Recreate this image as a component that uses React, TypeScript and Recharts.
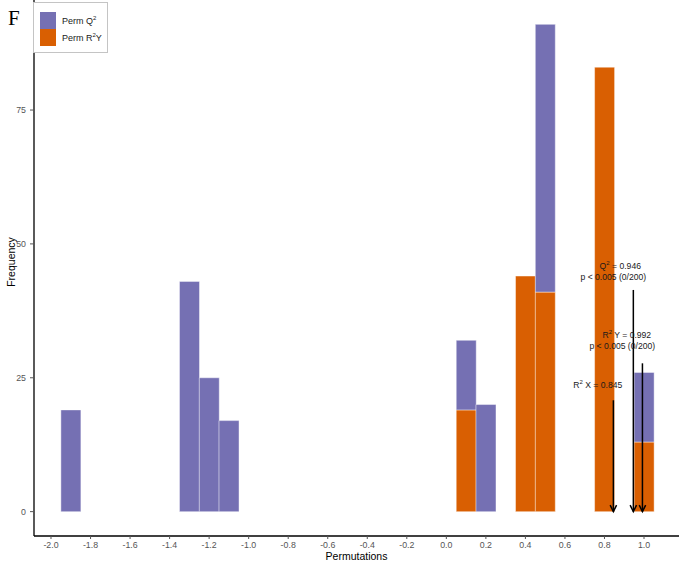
import { ComposedChart, Bar, XAxis, YAxis, ReferenceLine, Scatter, Legend } from "recharts";

// permutation histogram, bins of width 0.1 (stacked: R2Y at the bottom, Q2 on top)
const binCenters = [-1.9, -1.3, -1.2, -1.1, 0.1, 0.2, 0.4, 0.5, 0.8, 1.0];
const permQ2Counts = [19, 43, 25, 17, 13, 20, 0, 50, 0, 13];
const permR2YCounts = [0, 0, 0, 0, 19, 0, 44, 41, 83, 13];

const xTicks = [-2.0, -1.8, -1.6, -1.4, -1.2, -1.0, -0.8, -0.6, -0.4, -0.2, 0.0, 0.2, 0.4, 0.6, 0.8, 1.0];
const yTicks = [0, 25, 50, 75];

// observed model statistics, drawn as arrows
const statValues = [0.845, 0.946, 0.992];
const arrowTops = [20.8, 41.4, 27.7];

// annotation text anchors (data units)
const noteX = [0.88, 0.845, 0.913, 0.89, 0.766];
const noteY = [45.4, 43.2, 32.5, 30.3, 23.1];
const noteBase = ["Q", "p < 0.005 (0/200)", "R", "p < 0.005 (0/200)", "R"];
const noteSup = ["2", "", "2", "", "2"];
const noteRest = [" = 0.946", "", " Y = 0.992", "", " X = 0.845"];

const PURPLE = "#7570B3";
const ORANGE = "#D95F02";
const FONT = "'Liberation Sans', Arial, Helvetica, sans-serif";

const bins = binCenters.map((x, i) => ({ x, q2: permQ2Counts[i], r2y: permR2YCounts[i] }));
const arrowHeads = statValues.map((x) => ({ x, y: 0 }));
const notes = noteX.map((x, i) => ({
  x,
  y: noteY[i],
  base: noteBase[i],
  sup: noteSup[i],
  rest: noteRest[i],
}));

const X_DOMAIN: [number, number] = [-2.086, 1.177];
const Y_DOMAIN: [number, number] = [-4.55, 95.55];

function ArrowHead(props: any) {
  const { cx, cy } = props;
  return (
    <path
      d={`M${cx - 3.2},${cy - 6.5} L${cx},${cy} L${cx + 3.2},${cy - 6.5}`}
      fill="none"
      stroke="#000"
      strokeWidth={1.5}
    />
  );
}

function NoteText(props: any) {
  const { cx, cy, payload } = props;
  return (
    <text x={cx} y={cy} textAnchor="middle" fontFamily={FONT} fontSize={8.6} fill="#1a1a1a">
      <tspan>{payload.base}</tspan>
      {payload.sup && (
        <tspan dy={-3.5} fontSize={6}>
          {payload.sup}
        </tspan>
      )}
      {payload.rest && <tspan dy={payload.sup ? 3.5 : 0}>{payload.rest}</tspan>}
    </text>
  );
}

const legendItems = [
  { base: "Perm Q", sup: "2", rest: "", color: PURPLE },
  { base: "Perm R", sup: "2", rest: "Y", color: ORANGE },
];

function LegendBox() {
  return (
    <div
      style={{
        border: "1px solid #c4c4c4",
        background: "#fff",
        padding: "9px 5px 6px 6px",
        fontFamily: FONT,
        fontSize: 9,
        color: "#1a1a1a",
      }}
    >
      {legendItems.map((item) => (
        <div key={item.base} style={{ display: "flex", alignItems: "center", height: 17 }}>
          <div style={{ width: 16, height: 17, background: item.color, marginRight: 6 }} />
          <span>
            {item.base}
            <sup style={{ fontSize: 6 }}>{item.sup}</sup>
            {item.rest}
          </span>
        </div>
      ))}
    </div>
  );
}

function FrequencyLabel(props: any) {
  const { viewBox } = props;
  const x = viewBox.x + 11;
  const y = viewBox.y + viewBox.height / 2 - 6;
  return (
    <text
      x={x}
      y={y}
      transform={`rotate(-90, ${x}, ${y})`}
      textAnchor="middle"
      dominantBaseline="central"
      fontFamily={FONT}
      fontSize={10.5}
      fill="#000"
    >
      Frequency
    </text>
  );
}

export default function App() {
  return (
    <div style={{ position: "absolute", left: 0, top: 0, width: 679, height: 568, background: "#fff" }}>
      <div
        style={{
          position: "absolute",
          left: 8,
          top: 6,
          fontFamily: "'Liberation Serif', 'Times New Roman', serif",
          fontSize: 21,
          zIndex: 2,
        }}
      >
        F
      </div>
      <ComposedChart
        width={679}
        height={568}
        data={bins}
        margin={{ top: 0, right: 0, bottom: 0, left: 0 }}
        barCategoryGap={0}
        barGap={0}
      >
        <XAxis
          dataKey="x"
          type="number"
          domain={X_DOMAIN}
          allowDataOverflow
          ticks={xTicks}
          tickFormatter={(v: number) => v.toFixed(1)}
          interval={0}
          height={32}
          axisLine={{ stroke: "#000", strokeWidth: 1.3 }}
          tickLine={{ stroke: "#555" }}
          tickSize={3}
          tickMargin={2.5}
          tick={{ fill: "#555", fontSize: 8.8, fontFamily: FONT }}
          label={{
            value: "Permutations",
            position: "insideBottom",
            offset: 8,
            fill: "#000",
            fontSize: 10.5,
            fontFamily: FONT,
          }}
        />
        <XAxis xAxisId="ann" dataKey="x" type="number" domain={X_DOMAIN} allowDataOverflow hide />
        <YAxis
          type="number"
          domain={Y_DOMAIN}
          allowDataOverflow
          ticks={yTicks}
          interval={0}
          width={34}
          axisLine={{ stroke: "#000", strokeWidth: 1.3 }}
          tickLine={{ stroke: "#555" }}
          tickSize={4}
          tickMargin={4}
          tick={{ fill: "#555", fontSize: 8.8, fontFamily: FONT }}
          label={<FrequencyLabel />}
        />
        <Legend
          layout="vertical"
          align="center"
          verticalAlign="middle"
          content={() => <LegendBox />}
          wrapperStyle={{ position: "absolute", left: 33, top: 2, width: "auto", height: "auto" }}
        />
        <Bar
          dataKey="r2y"
          name="Perm R2Y"
          stackId="perm"
          fill={ORANGE}
          stroke="#ffffff"
          strokeOpacity={0.55}
          strokeWidth={0.8}
          isAnimationActive={false}
        />
        <Bar
          dataKey="q2"
          name="Perm Q2"
          stackId="perm"
          fill={PURPLE}
          stroke="#ffffff"
          strokeOpacity={0.55}
          strokeWidth={0.8}
          isAnimationActive={false}
        />
        {statValues.map((v, i) => (
          <ReferenceLine
            key={v}
            segment={[
              { x: v, y: arrowTops[i] },
              { x: v, y: 0 },
            ]}
            stroke="#000"
            strokeWidth={1.5}
          />
        ))}
        <Scatter
          xAxisId="ann"
          data={arrowHeads}
          dataKey="y"
          shape={<ArrowHead />}
          isAnimationActive={false}
        />
        <Scatter
          xAxisId="ann"
          data={notes}
          dataKey="y"
          shape={<NoteText />}
          isAnimationActive={false}
        />
      </ComposedChart>
    </div>
  );
}
